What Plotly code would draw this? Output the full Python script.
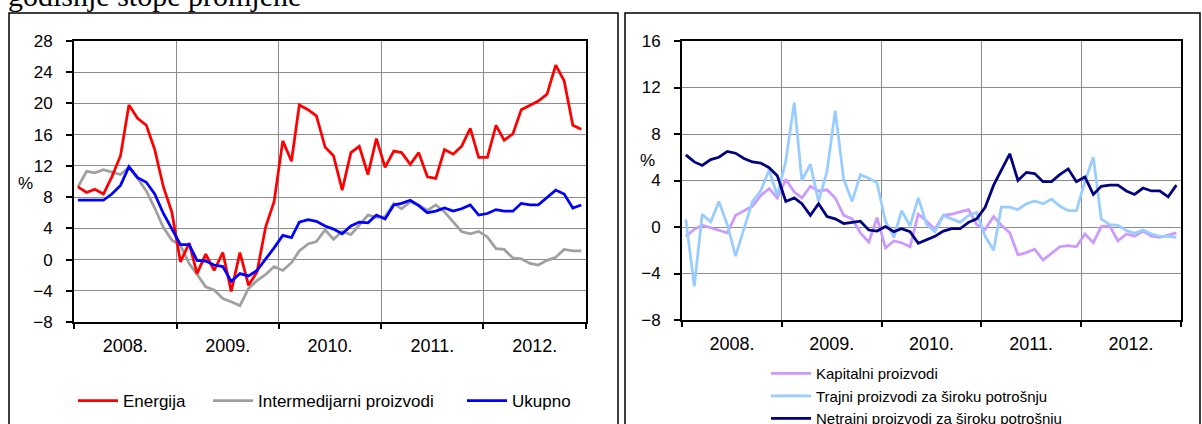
import pandas as pd
import plotly.graph_objects as go

# monthly points 2008-2012 (mid-month)
months = pd.date_range("2008-01-01", periods=60, freq="MS") + pd.Timedelta(days=14)

# left panel
energija = [9.3, 8.6, 9.0, 8.4, 10.6, 13.3, 19.8, 18.1, 17.2, 14.1, 9.3, 6.1,
            -0.3, 2.1, -1.8, 0.7, -1.4, 0.9, -4.1, 0.9, -3.3, -1.6, 4.2, 7.4,
            15.2, 12.6, 19.8, 19.2, 18.4, 14.4, 13.3, 8.9, 13.7, 14.5, 10.9, 15.5,
            11.8, 13.9, 13.7, 12.2, 13.7, 10.6, 10.4, 14.1, 13.5, 14.5, 16.8, 13.1,
            13.1, 17.2, 15.3, 16.1, 19.2, 19.8, 20.3, 21.2, 24.9, 22.9, 17.2, 16.7]
intermedijarni = [9.3, 11.3, 11.1, 11.5, 11.2, 10.9, 11.8, 10.4, 8.8, 6.6, 4.1, 2.5,
                  1.8, -0.5, -1.9, -3.5, -3.9, -5.0, -5.4, -5.9, -3.7, -2.7, -1.9, -0.9,
                  -1.4, -0.4, 1.1, 2.0, 2.3, 3.8, 2.6, 3.6, 3.2, 4.4, 5.7, 5.4,
                  5.5, 7.2, 6.5, 7.4, 7.0, 6.3, 7.0, 6.1, 4.8, 3.6, 3.3, 3.6,
                  2.9, 1.4, 1.3, 0.2, 0.1, -0.5, -0.7, -0.1, 0.3, 1.3, 1.1, 1.1]
ukupno = [7.6, 7.6, 7.6, 7.6, 8.4, 9.5, 11.9, 10.5, 9.9, 8.4, 5.9, 4.0,
          1.9, 1.9, -0.1, -0.2, -0.7, -0.9, -2.8, -1.8, -2.1, -1.4, 0.0, 1.5,
          3.1, 2.8, 4.8, 5.1, 4.9, 4.3, 3.9, 3.3, 4.3, 4.8, 4.7, 5.7,
          5.2, 7.0, 7.2, 7.6, 6.9, 6.0, 6.2, 6.6, 6.2, 6.5, 7.0, 5.7,
          5.9, 6.4, 6.2, 6.2, 7.2, 7.0, 7.0, 7.9, 8.9, 8.4, 6.6, 7.0]

# right panel
kapitalni = [-0.8, -0.2, 0.15, -0.06, -0.3, -0.5, 1.0, 1.4, 1.8, 2.7, 3.3, 2.5,
             4.1, 3.0, 2.5, 3.5, 3.1, 3.2, 2.5, 1.0, 0.7, -0.5, -1.3, 0.8,
             -1.8, -1.2, -1.35, -1.7, 1.1, 0.5, -0.2, 1.0, 1.1, 1.3, 1.5, 0.2,
             -0.2, 0.9, 0.15, -0.5, -2.4, -2.2, -1.9, -2.85, -2.3, -1.7, -1.6, -1.7,
             -0.6, -1.35, 0.03, 0.1, -1.2, -0.6, -0.8, -0.35, -0.8, -0.9, -0.7, -0.5]
trajni = [0.66, -5.1, 1.1, 0.43, 2.2, 0.2, -2.5, -0.06, 2.2, 3.1, 4.9, 2.7,
          5.7, 10.7, 4.0, 5.4, 2.2, 4.8, 10.0, 4.1, 2.2, 4.5, 4.2, 3.8,
          0.5, -0.9, 1.4, 0.1, 2.5, 0.2, -0.4, 1.0, 0.7, 0.4, 1.0, 1.25,
          -0.8, -2.0, 1.7, 1.7, 1.5, 2.0, 2.25, 2.0, 2.4, 1.8, 1.4, 1.4,
          3.9, 6.0, 0.7, 0.2, 0.15, -0.3, -0.55, -0.26, -0.6, -0.8, -0.8, -0.9]
netrajni = [6.2, 5.6, 5.3, 5.8, 6.0, 6.5, 6.35, 5.9, 5.6, 5.5, 5.1, 4.4,
            2.2, 2.5, 2.0, 1.0, 2.0, 0.9, 0.7, 0.3, 0.4, 0.5, -0.26, -0.35,
            0.03, -0.4, -0.15, -0.4, -1.4, -1.1, -0.8, -0.35, -0.15, -0.15, 0.4, 0.7,
            1.7, 3.6, 4.9, 6.3, 4.0, 4.7, 4.6, 3.9, 3.9, 4.5, 5.0, 3.9,
            4.3, 2.8, 3.5, 3.6, 3.6, 3.1, 2.8, 3.35, 3.1, 3.1, 2.6, 3.6]

W, H = 1202, 424
FONT = "Liberation Sans, Arial, sans-serif"

def px_x(v):
    return v / W

def px_y(v):
    return 1 - v / H

fig = go.Figure()

# left panel traces, each with its own legend so the entries sit like the original
fig.add_trace(go.Scatter(x=months, y=intermedijarni, name="Intermedijarni proizvodi", mode="lines",
                         line=dict(color="#A0A0A0", width=2.75),
                         xaxis="x", yaxis="y", legend="legend3"))
fig.add_trace(go.Scatter(x=months, y=energija, name="Energija", mode="lines",
                         line=dict(color="#FF0000", width=2.75),
                         xaxis="x", yaxis="y", legend="legend"))
fig.add_trace(go.Scatter(x=months, y=ukupno, name="Ukupno", mode="lines",
                         line=dict(color="#0000FF", width=2.75),
                         xaxis="x", yaxis="y", legend="legend4"))

# right panel traces
fig.add_trace(go.Scatter(x=months, y=kapitalni, name="Kapitalni proizvodi", mode="lines",
                         line=dict(color="#CC99FF", width=2.75),
                         xaxis="x2", yaxis="y2", legend="legend2"))
fig.add_trace(go.Scatter(x=months, y=trajni, name="Trajni proizvodi za široku potrošnju", mode="lines",
                         line=dict(color="#99CCFF", width=2.75),
                         xaxis="x2", yaxis="y2", legend="legend2"))
fig.add_trace(go.Scatter(x=months, y=netrajni, name="Netrajni proizvodi za široku potrošnju", mode="lines",
                         line=dict(color="#000080", width=2.75),
                         xaxis="x2", yaxis="y2", legend="legend2"))

xcommon = dict(type="date", range=["2008-01-01", "2013-01-01"], dtick="M12", tick0="2008-01-01",
               tickformat="%Y.", ticklabelmode="period", showgrid=True, gridcolor="#8C8C8C", gridwidth=1,
               ticks="outside", ticklen=5, tickcolor="black", tickwidth=1.5,
               showline=True, linecolor="black", linewidth=2, mirror=True,
               tickfont=dict(family=FONT, size=18, color="black"), ticklabelstandoff=1,
               fixedrange=True)
ycommon = dict(dtick=4, showgrid=True, gridcolor="#8C8C8C", gridwidth=1, zeroline=False,
               ticks="outside", ticklen=6, tickcolor="black", tickwidth=1.5,
               showline=True, linecolor="black", linewidth=2, mirror=True,
               tickfont=dict(family=FONT, size=17, color="black"), ticklabelstandoff=10,
               fixedrange=True)

leg_h = dict(orientation="h", yanchor="middle", xanchor="left", y=px_y(401), itemwidth=40,
             font=dict(family=FONT, size=17), bgcolor="rgba(0,0,0,0)")

fig.update_layout(
    width=W, height=H,
    margin=dict(l=0, r=0, t=0, b=0, autoexpand=False),
    paper_bgcolor="white", plot_bgcolor="white",
    font=dict(family=FONT, color="black"),
    xaxis=dict(xcommon, domain=[px_x(74), px_x(586)], anchor="y"),
    yaxis=dict(ycommon, domain=[px_y(322), px_y(41)], range=[-8, 28], anchor="x"),
    xaxis2=dict(xcommon, domain=[px_x(682), px_x(1181)], anchor="y2"),
    yaxis2=dict(ycommon, domain=[px_y(320), px_y(41)], range=[-8, 16], anchor="x2"),
    legend=dict(leg_h, x=px_x(73)),
    legend3=dict(leg_h, x=px_x(208)),
    legend4=dict(leg_h, x=px_x(462)),
    legend2=dict(orientation="v", x=px_x(766), xanchor="left", y=px_y(357), yanchor="top",
                 itemwidth=40, font=dict(family=FONT, size=15), bgcolor="rgba(0,0,0,0)",
                 tracegroupgap=0),
    showlegend=True,
)

# panel frames
fig.add_shape(type="rect", xref="paper", yref="paper", x0=px_x(9), x1=px_x(618),
              y0=-0.05, y1=px_y(13), line=dict(color="black", width=1.5))
fig.add_shape(type="rect", xref="paper", yref="paper", x0=px_x(625), x1=px_x(1200),
              y0=-0.05, y1=px_y(13), line=dict(color="black", width=1.5))

fig.add_annotation(text="godišnje stope promjene", xref="paper", yref="paper",
                   x=px_x(6), y=px_y(14), xanchor="left", yanchor="bottom", showarrow=False,
                   font=dict(family="Liberation Serif, Times New Roman, serif", size=30, color="black"))
fig.add_annotation(text="%", xref="paper", yref="paper", x=px_x(25), y=px_y(183),
                   xanchor="center", yanchor="middle", showarrow=False,
                   font=dict(family=FONT, size=17))
fig.add_annotation(text="%", xref="paper", yref="paper", x=px_x(647), y=px_y(160),
                   xanchor="center", yanchor="middle", showarrow=False,
                   font=dict(family=FONT, size=17))

# the page body has a default margin; drop it so the figure starts at the corner
fig.write_html("out.html", config={"displayModeBar": False},
               post_script="document.body.style.margin='0';")
